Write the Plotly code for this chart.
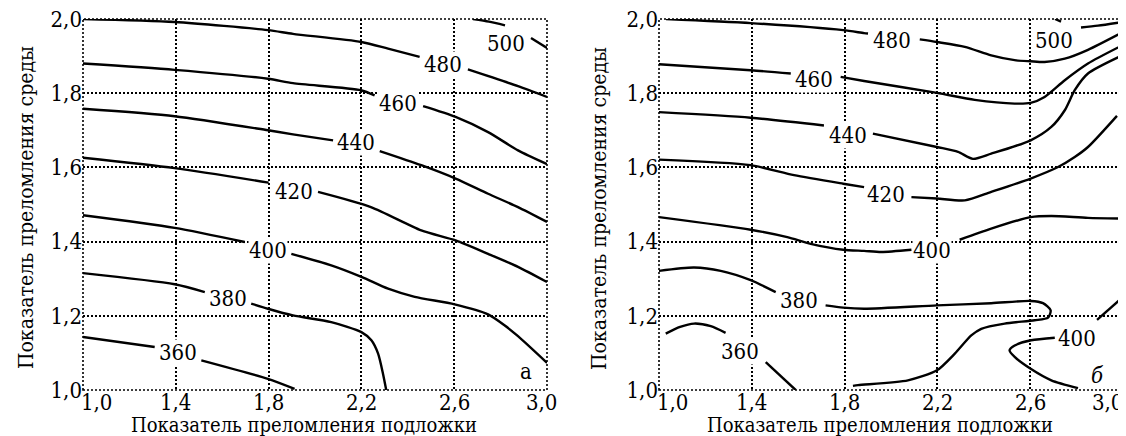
import plotly.graph_objects as go

# ---------------- data ----------------
tick_vals_x = [1.0, 1.4, 1.8, 2.2, 2.6, 3.0]
tick_text_x = ["1,0", "1,4", "1,8", "2,2", "2,6", "3,0"]
tick_vals_y = [1.0, 1.2, 1.4, 1.6, 1.8, 2.0]
tick_text_y = ["1,0", "1,2", "1,4", "1,6", "1,8", "2,0"]

x_title = "Показатель преломления подложки"
y_title = "Показатель преломления среды"

# panel "а" contour lines (None = gap where the label sits)
a500_x = [2.681, 2.750, 2.819, None, 2.931, 3.0]
a500_y = [2.0, 1.993, 1.983, None, 1.949, 1.922]
a480_x = [1.0, 1.395, 1.797, 1.905, 2.200, 2.315, 2.451, None, 2.659, 2.875, 3.0]
a480_y = [2.0, 1.992, 1.970, 1.960, 1.938, 1.920, 1.898, None, 1.864, 1.819, 1.790]
a460_x = [1.0, 1.395, 1.797, 1.905, 2.198, 2.257, None, 2.466, 2.606, 2.746, 2.875, 3.0]
a460_y = [1.880, 1.863, 1.839, 1.827, 1.808, 1.794, None, 1.765, 1.736, 1.695, 1.646, 1.609]
a440_x = [1.0, 1.395, 1.797, 1.905, 2.078, None, 2.279, 2.458, 2.606, 2.746, 2.875, 3.0]
a440_y = [1.758, 1.738, 1.700, 1.689, 1.673, None, 1.644, 1.606, 1.570, 1.529, 1.493, 1.453]
a420_x = [1.0, 1.395, 1.800, None, 2.013, 2.241, 2.458, 2.606, 2.746, 2.875, 3.0]
a420_y = [1.626, 1.598, 1.559, None, 1.534, 1.493, 1.430, 1.403, 1.367, 1.332, 1.291]
a400_x = [1.0, 1.395, 1.697, None, 1.898, 2.070, 2.200, 2.315, 2.430, 2.602, 2.746, 2.818, 2.875, 3.0]
a400_y = [1.471, 1.437, 1.399, None, 1.367, 1.336, 1.305, 1.273, 1.251, 1.231, 1.204, 1.174, 1.145, 1.073]
a380_x = [1.0, 1.395, 1.525, None, 1.725, 1.797, 1.905, 2.070, 2.200, 2.243, 2.272, 2.293, 2.307]
a380_y = [1.315, 1.285, 1.264, None, 1.233, 1.219, 1.201, 1.183, 1.156, 1.134, 1.098, 1.044, 1.0]
a360_x = [1.0, 1.309, None, 1.510, 1.797, 1.912]
a360_y = [1.143, 1.116, None, 1.080, 1.030, 1.003]

a_label_text = ["500", "480", "460", "440", "420", "400", "380", "360"]
a_label_x = [2.823, 2.552, 2.358, 2.178, 1.909, 1.797, 1.625, 1.409]
a_label_y = [1.935, 1.878, 1.772, 1.668, 1.536, 1.377, 1.246, 1.102]

# panel "б" contour lines
b500_x = [2.707, 2.733, None, 2.819, 2.892, 3.0]
b500_y = [2.0, 1.993, None, 1.977, 1.982, 1.992]
b480_x = [1.03, 1.395, 1.794, 1.884, 1.901, None, 2.124, 2.198, 2.318, 2.432, 2.533, 2.602, 2.662, 2.749, 2.849, 3.0]
b480_y = [2.0, 1.989, 1.970, 1.962, 1.961, None, 1.945, 1.938, 1.925, 1.902, 1.889, 1.886, 1.884, 1.893, 1.917, 1.965]
b460_x = [1.0, 1.395, 1.568, None, 1.783, 1.884, 2.198, 2.361, 2.533, 2.602, 2.662, 2.749, 2.849, 3.0]
b460_y = [1.878, 1.862, 1.853, None, 1.844, 1.833, 1.801, 1.782, 1.772, 1.774, 1.790, 1.835, 1.880, 1.930]
b440_x = [1.0, 1.395, 1.711, None, 1.922, 2.198, 2.289, 2.353, 2.432, 2.602, 2.691, 2.749, 2.792, 2.849, 3.0]
b440_y = [1.749, 1.734, 1.713, None, 1.691, 1.655, 1.642, 1.623, 1.637, 1.673, 1.709, 1.754, 1.808, 1.853, 1.903]
b420_x = [1.0, 1.395, 1.582, 1.794, 1.884, None, 2.088, 2.198, 2.318, 2.432, 2.602, 2.720, 2.792, 2.849, 2.974]
b420_y = [1.621, 1.606, 1.579, 1.556, 1.547, None, 1.520, 1.516, 1.511, 1.534, 1.570, 1.601, 1.628, 1.655, 1.739]
b400u_x = [1.0, 1.395, 1.553, 1.654, 1.794, 1.884, 1.958, 2.088, None, 2.296, 2.432, 2.602, 2.691, 2.849, 3.0]
b400u_y = [1.466, 1.432, 1.412, 1.394, 1.378, 1.375, 1.372, 1.378, None, 1.405, 1.435, 1.466, 1.469, 1.464, 1.462]
b380_x = [1.0, 1.151, 1.266, 1.395, 1.503, None, 1.718, 1.794, 1.884, 2.198, 2.432, 2.602, 2.655, 2.688,
          2.677, 2.619, 2.490, 2.389, 2.346, 2.275, 2.198, 2.073, 1.858, 1.836]
b380_y = [1.321, 1.330, 1.321, 1.296, 1.264, None, 1.228, 1.222, 1.219, 1.228, 1.234, 1.240, 1.234, 1.215,
          1.195, 1.188, 1.179, 1.165, 1.147, 1.098, 1.053, 1.026, 1.013, 1.011]
b360_x = [1.029, 1.091, 1.151, 1.223, 1.287, None, 1.460, 1.589]
b360_y = [1.152, 1.170, 1.179, 1.172, 1.154, None, 1.075, 1.0]
b400l_x = [2.806, 2.691, 2.602, 2.533, 2.511, 2.533, 2.604, 2.706, None, 2.888, 3.0]
b400l_y = [1.005, 1.026, 1.057, 1.089, 1.107, 1.120, 1.134, 1.141, None, 1.189, 1.251]

b_label_text = ["500", "480", "460", "440", "420", "400", "380", "360", "400"]
b_label_x = [2.703, 2.004, 1.668, 1.815, 1.978, 2.177, 1.603, 1.349, 2.801]
b_label_y = [1.943, 1.943, 1.838, 1.687, 1.526, 1.377, 1.240, 1.105, 1.140]

panel_tag_text = ["а", "<i>б</i>"]
panel_tag_x = [2.909, 2.888]
panel_tag_y = [1.049, 1.040]

# ---------------- figure ----------------
FONT = "DejaVu Serif Condensed, DejaVu Serif, serif"
FS = 22
FS_T = 20
W, H = 1126, 436

fig = go.Figure()

line_style = dict(color="black", width=2.4, shape="spline", smoothing=0.7)

a_curves = [(a500_x, a500_y), (a480_x, a480_y), (a460_x, a460_y), (a440_x, a440_y),
            (a420_x, a420_y), (a400_x, a400_y), (a380_x, a380_y), (a360_x, a360_y)]
b_curves = [(b500_x, b500_y), (b480_x, b480_y), (b460_x, b460_y), (b440_x, b440_y),
            (b420_x, b420_y), (b400u_x, b400u_y), (b380_x, b380_y), (b360_x, b360_y),
            (b400l_x, b400l_y)]

for xs, ys in a_curves:
    fig.add_trace(go.Scatter(x=xs, y=ys, mode="lines", line=line_style, xaxis="x", yaxis="y",
                             connectgaps=False, showlegend=False, hoverinfo="skip"))
for xs, ys in b_curves:
    fig.add_trace(go.Scatter(x=xs, y=ys, mode="lines", line=line_style, xaxis="x2", yaxis="y2",
                             connectgaps=False, showlegend=False, hoverinfo="skip"))

txt_font = dict(family=FONT, size=FS, color="black")
annotations = []
for t, x, y in zip(a_label_text, a_label_x, a_label_y):
    annotations.append(dict(x=x, y=y, xref="x", yref="y", text=t, showarrow=False,
                            font=txt_font, bgcolor="white", borderpad=0))
for t, x, y in zip(b_label_text, b_label_x, b_label_y):
    annotations.append(dict(x=x, y=y, xref="x2", yref="y2", text=t, showarrow=False,
                            font=txt_font, bgcolor="white", borderpad=0))
for i, (t, x, y) in enumerate(zip(panel_tag_text, panel_tag_x, panel_tag_y)):
    annotations.append(dict(x=x, y=y, xref="x" if i == 0 else "x2", yref="y" if i == 0 else "y2",
                            text=t, showarrow=False, font=txt_font))

# layout in pixels
dom_a = [75 / W, 539 / W]
dom_b = [651 / W, 1115 / W]
dom_y = [(H - 382) / H, (H - 11) / H]

# x tick labels (end labels nudged inwards, as in the reference)
tick_y = (H - 394) / H
shift_a = [13, 0, 0, 0, 0, -6]
shift_b = [13, 0, 0, 0, 0, -16]
for xref, shifts in [("x", shift_a), ("x2", shift_b)]:
    for v, t, s in zip(tick_vals_x, tick_text_x, shifts):
        annotations.append(dict(x=v, y=tick_y, xref=xref, yref="paper", text=t, showarrow=False,
                                xanchor="center", yanchor="middle", xshift=s, font=txt_font))

for cx in [296 / W, 872 / W]:
    annotations.append(dict(x=cx, y=(H - 417) / H, xref="paper", yref="paper", text=x_title,
                            showarrow=False, xanchor="center", yanchor="middle",
                            font=dict(family=FONT, size=FS_T, color="black")))
for cx in [18 / W, 591 / W]:
    annotations.append(dict(x=cx, y=(H - 200) / H, xref="paper", yref="paper", text=y_title,
                            showarrow=False, xanchor="center", yanchor="middle", textangle=-90,
                            font=dict(family=FONT, size=21, color="black")))

grid = dict(showgrid=True, gridcolor="black", gridwidth=1.6, griddash="2px,2px",
            zeroline=False, showline=False, ticks="", ticklen=0, automargin=False,
            ticklabeloverflow="allow", tickfont=txt_font)

fig.update_layout(
    template="none",
    width=W, height=H, margin=dict(l=0, r=0, t=0, b=0, pad=0),
    paper_bgcolor="white", plot_bgcolor="white",
    font=txt_font,
    xaxis=dict(domain=dom_a, range=[1.0, 3.0], tickvals=tick_vals_x, showticklabels=False,
               anchor="y", **grid),
    yaxis=dict(domain=dom_y, range=[1.0, 2.0], tickvals=tick_vals_y, ticktext=tick_text_y,
               anchor="x", **grid),
    xaxis2=dict(domain=dom_b, range=[1.0, 3.0], tickvals=tick_vals_x, showticklabels=False,
                anchor="y2", **grid),
    yaxis2=dict(domain=dom_y, range=[1.0, 2.0], tickvals=tick_vals_y, ticktext=tick_text_y,
                anchor="x2", **grid),
    annotations=annotations,
    shapes=[
        dict(type="rect", xref="x domain", yref="y domain", x0=0, x1=1, y0=0, y1=1,
             line=dict(color="black", width=1.6, dash="2px,2px"), layer="below"),
        dict(type="rect", xref="x2 domain", yref="y2 domain", x0=0, x1=1, y0=0, y1=1,
             line=dict(color="black", width=1.6, dash="2px,2px"), layer="below"),
    ],
)

fig.write_html("out.html")
